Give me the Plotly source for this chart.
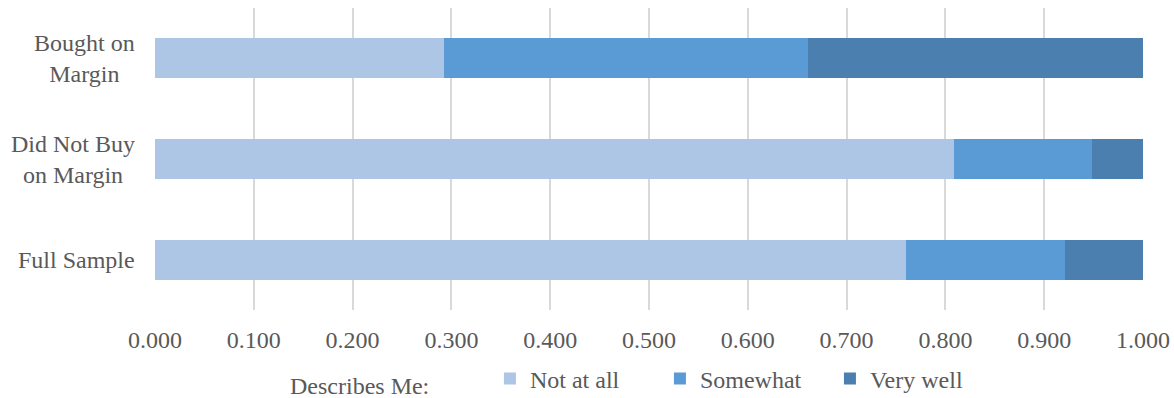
import plotly.graph_objects as go

# Share of respondents by how well the statement describes them
categories = ["Bought on<br>Margin", "Did Not Buy<br>on Margin", "Full Sample"]
not_at_all = [0.292, 0.809, 0.760]
somewhat = [0.369, 0.139, 0.161]
very_well = [0.339, 0.052, 0.079]

series_names = ["Not at all", "Somewhat", "Very well"]
series_colors = ["#aec6e6", "#5b9bd5", "#4a7fb0"]
x_ticks = [i / 10 for i in range(11)]
legend_title = "Describes Me:"

FONT = "Liberation Serif"
TEXT_COLOR = "#595959"
SIZE = 24

fig = go.Figure()
for name, vals, color in zip(series_names, [not_at_all, somewhat, very_well], series_colors):
    fig.add_trace(go.Bar(
        y=categories, x=vals, name=name, orientation="h",
        marker=dict(color=color, line=dict(width=0)),
    ))

# Centered, right-anchored category labels
for cat in categories:
    fig.add_annotation(
        x=0, xref="paper", y=cat, yref="y", text=cat, showarrow=False,
        xanchor="right", align="center", xshift=-18,
        font=dict(family=FONT, size=SIZE, color=TEXT_COLOR),
    )

# Caption to the left of the legend entries
fig.add_annotation(
    x=0.1346, xref="paper", y=-0.252, yref="paper", text=legend_title,
    showarrow=False, xanchor="left", yanchor="middle",
    font=dict(family=FONT, size=SIZE, color=TEXT_COLOR),
)

fig.update_layout(
    barmode="stack",
    bargap=0.6,
    width=1174, height=398,
    margin=dict(l=155, r=31, t=8, b=88, autoexpand=False),
    paper_bgcolor="white", plot_bgcolor="white",
    font=dict(family=FONT, size=SIZE, color=TEXT_COLOR),
    xaxis=dict(
        range=[0, 1], tickvals=x_ticks, tickformat=".3f",
        showgrid=True, gridcolor="#d9d9d9", gridwidth=2,
        zeroline=False, showline=False, ticklabelstandoff=13,
        tickfont=dict(family=FONT, size=SIZE, color=TEXT_COLOR),
    ),
    yaxis=dict(
        autorange="reversed", showticklabels=False, showgrid=False,
        zeroline=False, showline=False,
    ),
    legend=dict(
        orientation="h", x=0.339, xanchor="left", y=-0.303, yanchor="bottom",
        font=dict(family=FONT, size=SIZE, color=TEXT_COLOR),
        traceorder="normal", itemwidth=30, entrywidth=125,
    ),
    showlegend=True,
)

fig.write_html("out.html")
